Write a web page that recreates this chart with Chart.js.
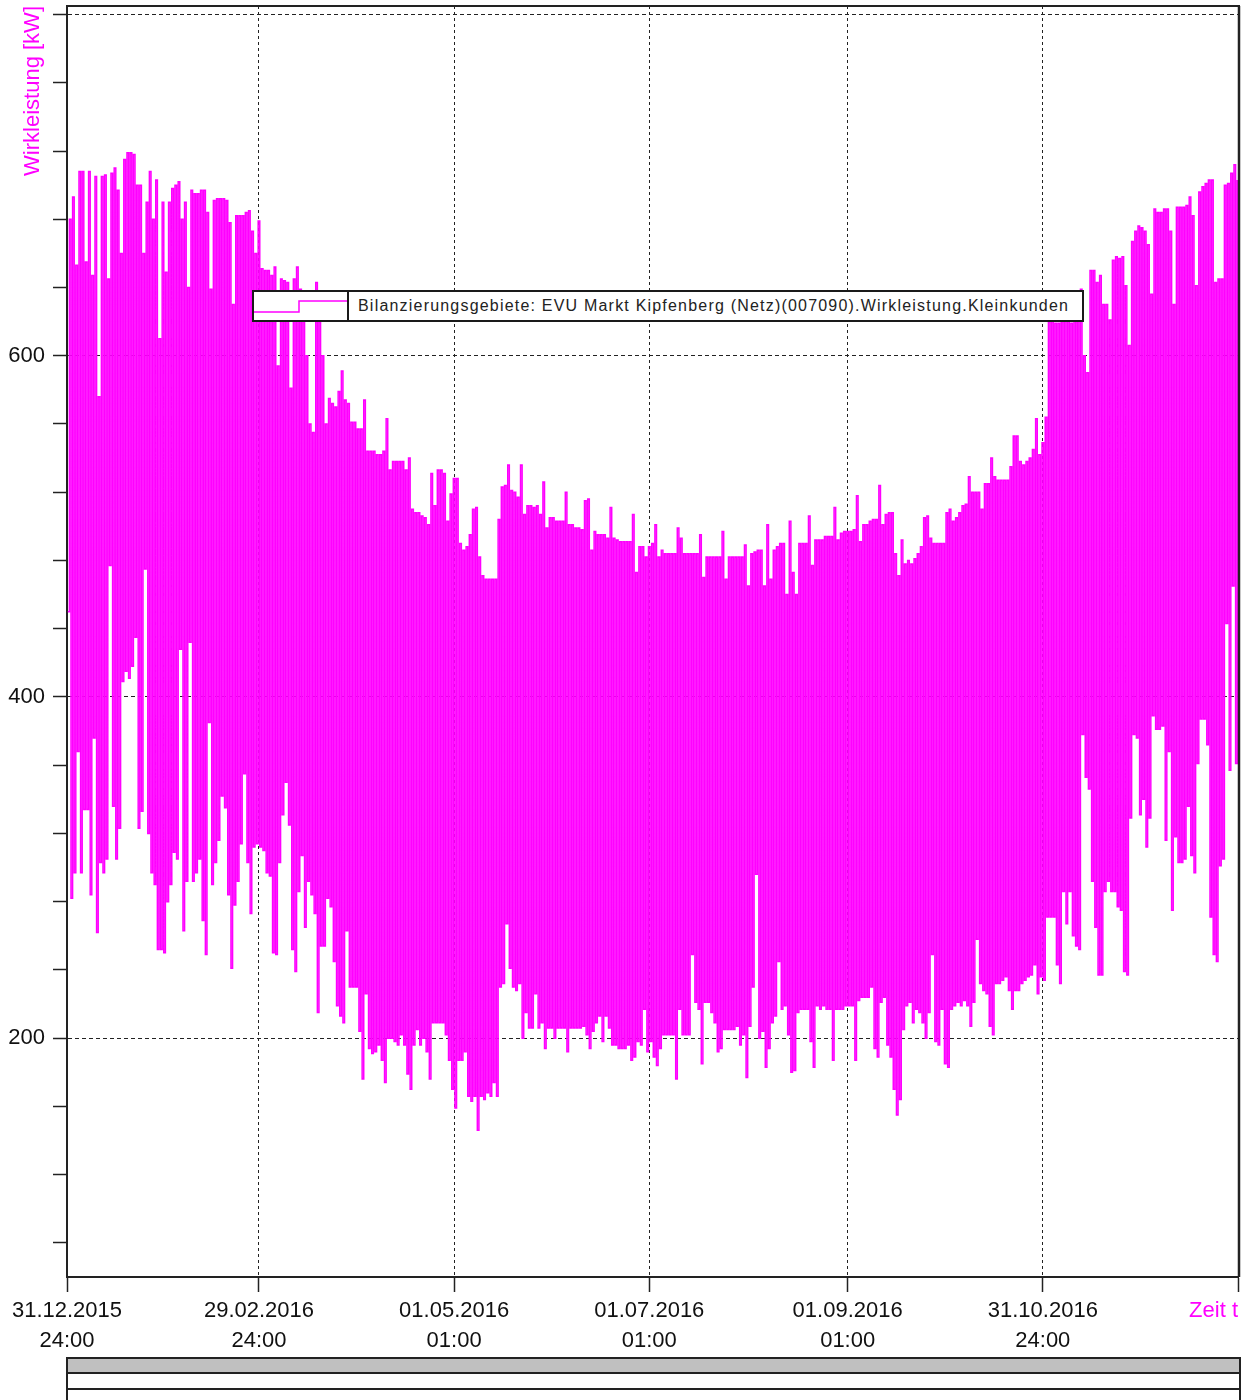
<!DOCTYPE html>
<html>
<head>
<meta charset="utf-8">
<script src="https://cdn.jsdelivr.net/npm/chart.js@4.4.1/dist/chart.umd.min.js"></script>
<style>
html, body { margin: 0; padding: 0; background: #fff; }
#wrap { position: relative; width: 1249px; height: 1400px; overflow: hidden; background: #fff; }
#c { position: absolute; left: 0; top: 0; }
.legend { position: absolute; left: 252px; top: 290px; width: 832px; height: 32px; box-sizing: border-box;
  border: 2px solid #1a1a1a; background: #fff; display: flex; align-items: center; }
.legend .sample { width: 95px; height: 100%; box-sizing: border-box; border-right: 2px solid #1a1a1a; }
.legend .sample svg { display: block; }
.legend .txt { padding-left: 9px; font: 16px 'Liberation Sans', Arial, sans-serif; letter-spacing: 1.2px; color: #222; white-space: nowrap; }
.sb1 { position: absolute; left: 66px; top: 1357px; width: 1175px; height: 17px; box-sizing: border-box; border: 2px solid #222; background: #c0c0c0; }
.sb2 { position: absolute; left: 66px; top: 1374px; width: 1175px; height: 16px; box-sizing: border-box; border: 2px solid #222; border-top: none; background: #fff; }
.sb3 { position: absolute; left: 66px; top: 1390px; width: 1175px; height: 10px; box-sizing: border-box; border-left: 2px solid #222; border-right: 2px solid #222; }
</style>
</head>
<body>
<div id="wrap">
  <canvas id="c" width="1249" height="1400"></canvas>
  <div class="legend">
    <div class="sample"><svg width="93" height="28"><polyline points="0,20 45,20 45,9 93,9" fill="none" stroke="#ff00ff" stroke-width="1.5"/></svg></div>
    <div class="txt" id="legtxt"></div>
  </div>
  <div class="sb1"></div>
  <div class="sb2"></div>
  <div class="sb3"></div>
</div>
<script>
// ---- data ----
const seriesLabel = 'Bilanzierungsgebiete: EVU Markt Kipfenberg (Netz)(007090).Wirkleistung.Kleinkunden';
const yTitle = 'Wirkleistung [kW]';

// daily maximum [kW], day 0 = 01.01.2016
const dailyHigh = [
  680, 693, 653, 708, 708, 655, 708, 647, 705, 576,
  705, 706, 645, 707, 710, 697, 660, 715, 719, 719,
  718, 700, 700, 660, 690, 708, 680, 703, 610, 690,
  649, 690, 698, 700, 702, 680, 690, 640, 697, 695,
  695, 697, 697, 684, 639, 691, 692, 692, 692, 691,
  678, 630, 682, 682, 682, 684, 685, 673, 660, 679,
  651, 650, 650, 647, 652, 594, 645, 644, 643, 581,
  645, 652, 639, 630, 600, 560, 555, 643, 620, 600,
  560, 575, 572, 570, 579, 591, 574, 572, 561, 561,
  557, 557, 574, 544, 544, 544, 542, 542, 544, 563,
  533, 538, 538, 538, 538, 533, 540, 510, 508, 508,
  506, 505, 501, 531, 512, 533, 533, 531, 503, 519,
  528, 528, 490, 486, 488, 495, 510, 511, 482, 471,
  469, 469, 469, 469, 504, 523, 524, 536, 521, 520,
  517, 536, 507, 512, 512, 511, 512, 507, 526, 499,
  505, 505, 503, 503, 503, 520, 501, 501, 499, 499,
  498, 515, 516, 486, 497, 495, 495, 495, 493, 511,
  493, 492, 491, 491, 491, 491, 507, 473, 488, 488,
  482, 488, 490, 501, 482, 486, 484, 484, 484, 484,
  499, 493, 484, 484, 484, 484, 484, 495, 470, 482,
  482, 482, 482, 482, 497, 469, 482, 482, 482, 482,
  482, 489, 465, 484, 485, 486, 486, 465, 501, 469,
  486, 488, 490, 490, 460, 503, 473, 460, 490, 490,
  490, 506, 477, 492, 492, 492, 494, 494, 494, 511,
  492, 496, 497, 497, 497, 498, 518, 491, 501, 501,
  503, 504, 504, 524, 501, 507, 508, 508, 484, 471,
  492, 478, 480, 478, 481, 484, 488, 505, 506, 493,
  490, 490, 490, 490, 508, 510, 503, 505, 508, 512,
  513, 529, 520, 520, 520, 510, 525, 525, 540, 529,
  527, 527, 527, 527, 535, 553, 553, 538, 536, 538,
  540, 545, 563, 542, 549, 564, 620, 628, 619, 619,
  630, 632, 634, 619, 634, 637, 639, 600, 590, 650,
  650, 643, 647, 630, 630, 621, 656, 658, 657, 658,
  641, 606, 667, 673, 676, 675, 673, 665, 636, 686,
  684, 684, 686, 686, 673, 630, 687, 687, 687, 688,
  693, 682, 641, 696, 699, 701, 703, 703, 643, 645,
  645, 700, 701, 707, 712, 703
];

// daily minimum [kW]
const dailyLow = [
  450, 282, 297, 368, 297, 334, 334, 284, 376, 262,
  303, 297, 305, 477, 336, 305, 323, 409, 415, 411,
  418, 435, 323, 333, 475, 320, 297, 290, 252, 252,
  250, 280, 290, 309, 305, 428, 263, 292, 432, 292,
  297, 305, 269, 249, 385, 290, 303, 316, 342, 335,
  284, 241, 278, 292, 314, 355, 303, 273, 312, 314,
  312, 310, 297, 295, 250, 249, 303, 331, 350, 325,
  252, 239, 286, 307, 265, 292, 284, 273, 215, 254,
  254, 282, 277, 245, 219, 213, 209, 263, 230, 230,
  230, 204, 176, 226, 194, 191, 192, 196, 187, 174,
  200, 200, 198, 196, 202, 196, 179, 170, 196, 205,
  196, 200, 192, 176, 209, 209, 209, 209, 202, 187,
  170, 159, 187, 187, 192, 166, 163, 166, 146, 166,
  164, 168, 166, 174, 166, 230, 232, 267, 241, 230,
  228, 232, 200, 215, 206, 206, 226, 206, 209, 194,
  206, 206, 200, 206, 206, 206, 192, 206, 206, 206,
  206, 207, 202, 194, 204, 209, 213, 198, 213, 206,
  196, 196, 194, 194, 194, 196, 187, 189, 198, 196,
  217, 192, 198, 189, 184, 194, 202, 202, 202, 202,
  176, 217, 202, 202, 202, 249, 221, 217, 185, 221,
  221, 215, 209, 192, 194, 205, 205, 205, 205, 207,
  196, 202, 177, 207, 230, 296, 200, 204, 183, 194,
  209, 213, 245, 217, 219, 202, 180, 181, 215, 217,
  217, 217, 198, 183, 219, 217, 219, 217, 217, 187,
  217, 217, 217, 219, 219, 219, 187, 222, 224, 224,
  224, 230, 194, 189, 221, 224, 196, 189, 170, 155,
  164, 205, 219, 221, 209, 217, 215, 209, 200, 215,
  249, 198, 196, 217, 185, 183, 217, 219, 221, 219,
  222, 219, 207, 221, 258, 232, 228, 226, 207, 202,
  232, 232, 234, 236, 228, 217, 228, 228, 232, 234,
  236, 237, 243, 226, 236, 234, 271, 271, 271, 243,
  232, 286, 267, 286, 260, 254, 252, 378, 353, 346,
  292, 265, 237, 237, 286, 292, 286, 286, 277, 275,
  239, 237, 329, 378, 376, 331, 340, 312, 329, 389,
  381, 381, 383, 316, 368, 275, 318, 303, 303, 305,
  336, 307, 297, 361, 387, 387, 372, 271, 249, 245,
  301, 305, 443, 357, 465, 361
];

// x axis ticks (days since 01.01.2016) and labels
const xTickDays = [0, 60, 121, 182, 244, 305, 366];
const xTickLabels = [
  ['31.12.2015', '24:00'],
  ['29.02.2016', '24:00'],
  ['01.05.2016', '01:00'],
  ['01.07.2016', '01:00'],
  ['01.09.2016', '01:00'],
  ['31.10.2016', '24:00'],
  ['Zeit t']
];

// y axis ticks
const yTickValues = [80, 120, 160, 200, 240, 280, 320, 360, 400, 440, 480, 520, 560, 600, 640, 680, 720, 760, 800];
const yLabelValues = [200, 400, 600];
const yGridValues = [200, 400, 600, 800];

// ---- build ----
document.getElementById('legtxt').textContent = seriesLabel;

const points = [];
for (let d = 0; d < dailyHigh.length; d++) {
  points.push({ x: d + 0.25, y: dailyLow[d] });
  points.push({ x: d + 0.75, y: dailyHigh[d] });
}

const FONT = "'Liberation Sans', Arial, sans-serif";
const MAGENTA = '#ff00ff';

const framePlugin = {
  id: 'frame',
  afterDatasetsDraw(chart) {
    const { ctx, chartArea: a } = chart;
    ctx.save();
    ctx.strokeStyle = '#222';
    ctx.lineWidth = 2;
    ctx.beginPath();
    ctx.moveTo(a.left, a.top);
    ctx.lineTo(a.right + 2, a.top);
    ctx.stroke();
    ctx.lineWidth = 2.5;
    ctx.beginPath();
    ctx.moveTo(a.right + 1, a.top);
    ctx.lineTo(a.right + 1, a.bottom);
    ctx.stroke();
    ctx.restore();
  }
};

const lastLabelAlign = {
  id: 'lastLabelAlign',
  beforeDraw(chart) {
    const sx = chart.scales.x;
    const items = sx.getLabelItems(chart.chartArea);
    const last = items[items.length - 1];
    if (last && last.options) last.options.textAlign = 'right';
  }
};

new Chart(document.getElementById('c'), {
  type: 'line',
  data: {
    datasets: [{
      label: seriesLabel,
      data: points,
      borderColor: MAGENTA,
      borderWidth: 1.5,
      pointRadius: 0,
      stepped: true,
      fill: false,
      tension: 0
    }]
  },
  options: {
    responsive: false,
    animation: false,
    devicePixelRatio: 1,
    layout: { padding: { top: 6, right: 11, left: 0, bottom: 0 } },
    plugins: { legend: { display: false }, tooltip: { enabled: false } },
    scales: {
      x: {
        type: 'linear',
        min: 0,
        max: 366,
        afterBuildTicks: s => { s.ticks = xTickDays.map(v => ({ value: v })); },
        afterFit: s => { s.height = 123; s.paddingLeft = 0; s.paddingRight = 0; },
        ticks: {
          autoSkip: false, maxRotation: 0, minRotation: 0, padding: 4,
          font: { family: FONT, size: 22, lineHeight: 1.36 },
          color: c => (c.index === xTickDays.length - 1 ? MAGENTA : '#111'),
          callback: (v, i) => xTickLabels[i]
        },
        grid: {
          color: c => (c.index === 0 || c.index === xTickDays.length - 1) ? 'rgba(0,0,0,0)' : '#222',
          lineWidth: 1,
          tickLength: 15,
          tickColor: '#222',
          tickWidth: 1.5
        },
        border: { display: true, color: '#222', width: 2, dash: [3, 3] }
      },
      y: {
        type: 'linear',
        min: 60,
        max: 805,
        afterBuildTicks: s => { s.ticks = yTickValues.map(v => ({ value: v })); },
        afterFit: s => { s.width = 67; s.paddingTop = 0; s.paddingBottom = 0; },
        ticks: {
          autoSkip: false, padding: 8,
          font: { family: FONT, size: 22 },
          color: '#111',
          callback: v => (yLabelValues.includes(v) ? String(v) : '')
        },
        grid: {
          color: c => (c.tick && yGridValues.includes(c.tick.value)) ? '#222' : 'rgba(0,0,0,0)',
          lineWidth: 1,
          tickLength: 14,
          tickColor: '#222',
          tickWidth: 1.5
        },
        border: { display: true, color: '#222', width: 2, dash: [4, 3] },
        title: {
          display: true, text: yTitle, color: MAGENTA, align: 'end',
          font: { family: FONT, size: 22 },
          padding: { top: 20, bottom: 0 }
        }
      }
    }
  },
  plugins: [framePlugin, lastLabelAlign]
});
</script>
</body>
</html>
